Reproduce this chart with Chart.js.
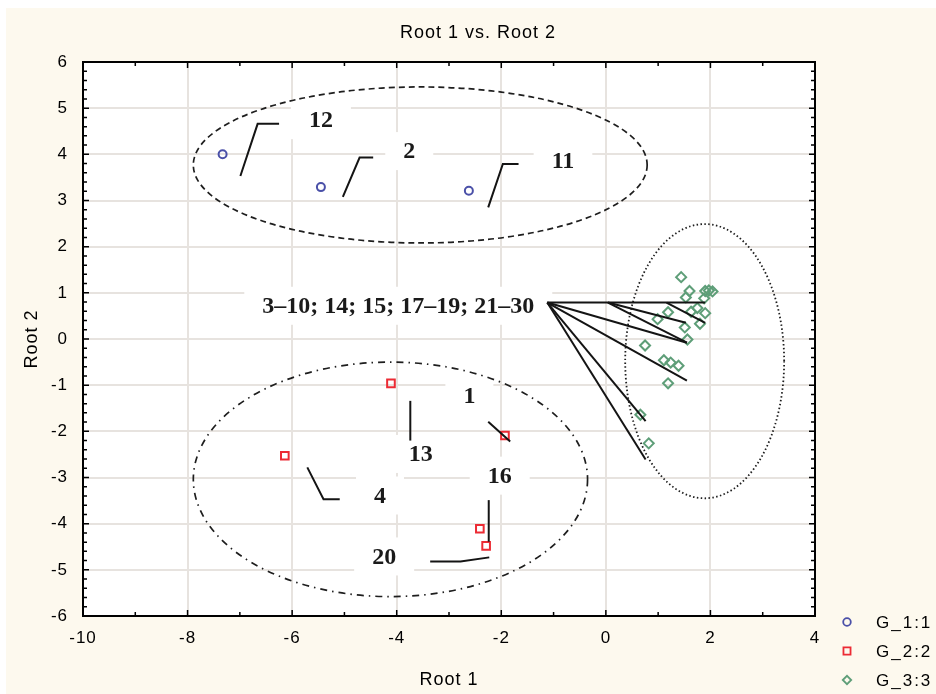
<!DOCTYPE html>
<html>
<head>
<meta charset="utf-8">
<script src="https://cdn.jsdelivr.net/npm/chart.js@4.4.0/dist/chart.umd.min.js"></script>
<style>
  html, body { margin: 0; padding: 0; background: #fff; }
  #wrap { width: 936px; height: 694px; }
</style>
</head>
<body>
<div id="wrap"><canvas id="rootChart" width="936" height="694"></canvas></div>
<script>
// discriminant scores
const g1X = [-7.33, -5.45, -2.62];
const g1Y = [4.00, 3.29, 3.21];
const g2X = [-4.11, -6.14, -1.93, -2.41, -2.29];
const g2Y = [-0.96, -2.53, -2.09, -4.11, -4.48];
const g3X = [1.44, 1.60, 1.53, 1.90, 2.04, 1.97, 1.88, 1.75, 1.63, 1.90, 1.19,
             0.99, 1.80, 1.51, 1.56, 0.75, 1.11, 1.24, 1.39, 1.19, 0.66, 0.82];
const g3Y = [1.34, 1.04, 0.90, 1.04, 1.03, 1.05, 0.88, 0.67, 0.59, 0.56, 0.58,
             0.43, 0.33, 0.25, -0.01, -0.14, -0.46, -0.51, -0.58, -0.96, -1.64, -2.26];
const groupNames = ['G_1:1', 'G_2:2', 'G_3:3'];

const xTicks = [-10, -8, -6, -4, -2, 0, 2, 4];
const yTicks = [-6, -5, -4, -3, -2, -1, 0, 1, 2, 3, 4, 5, 6];

// confidence ellipses (centre, half axes) in root units
const ellCX = [-3.55, -4.12, 1.89];
const ellCY = [3.77, -3.04, -0.48];
const ellRX = [4.34, 3.77, 1.52];
const ellRY = [1.69, 2.54, 2.97];

// case labels and their leader lines
const caseLabels = ['12', '2', '11', '3\u201310; 14; 15; 17\u201319; 21\u201330', '1', '13', '4', '16', '20'];
const caseLabelX = [-5.45, -3.76, -0.82, -3.97, -2.61, -3.54, -4.32, -2.03, -4.24];
const caseLabelY = [4.74, 4.07, 3.86, 0.72, -1.23, -2.49, -3.39, -2.96, -4.71];
const leaders = [
  [[-6.99, 3.53], [-6.66, 4.66], [-6.25, 4.66]],
  [[-5.03, 3.08], [-4.71, 3.93], [-4.45, 3.93]],
  [[-2.25, 2.85], [-1.97, 3.79], [-1.67, 3.79]],
  [[-1.12, 0.79], [1.90, 0.79]],
  [[0.04, 0.79], [1.53, 0.35]],
  [[0.04, 0.79], [1.55, -0.08]],
  [[1.16, 0.79], [1.90, 0.35]],
  [[-1.12, 0.79], [1.55, -0.08]],
  [[-1.12, 0.79], [1.55, -0.90]],
  [[-1.12, 0.79], [0.76, -1.78]],
  [[-1.12, 0.79], [0.76, -2.61]],
  [[-2.25, -1.79], [-1.83, -2.22]],
  [[-3.74, -1.34], [-3.74, -2.20]],
  [[-5.71, -2.78], [-5.40, -3.47], [-5.09, -3.47]],
  [[-2.24, -3.49], [-2.24, -4.39]],
  [[-3.36, -4.82], [-2.78, -4.82], [-2.23, -4.73]]
];

const pts = (xs, ys) => xs.map((x, i) => ({ x: x, y: ys[i] }));

const ellDash = [[6, 4], [7, 5, 1.5, 5], [1.5, 2.4]];
const labelFont = 'bold 24px "Liberation Serif", "Times New Roman", serif';

const decor = {
  id: 'decor',
  beforeDraw(chart) {
    const ctx = chart.ctx;
    const a = chart.chartArea;
    ctx.save();
    ctx.fillStyle = '#ffffff';
    ctx.fillRect(0, 0, chart.width, chart.height);
    ctx.fillStyle = '#fdf9ee';
    ctx.fillRect(6, 8, chart.width - 6, chart.height - 8);
    ctx.fillStyle = '#ffffff';
    ctx.fillRect(a.left, a.top, a.right - a.left, a.bottom - a.top);
    ctx.restore();
    ctx.letterSpacing = '1px';
  },
  beforeDatasetsDraw(chart) {
    const ctx = chart.ctx;
    const xs = chart.scales.x, ys = chart.scales.y;
    ctx.save();
    ctx.letterSpacing = '0px';
    ctx.font = labelFont;
    ctx.fillStyle = '#ffffff';
    caseLabels.forEach((t, i) => {
      const w = Math.max(ctx.measureText(t).width + 36, 46);
      const cx = xs.getPixelForValue(caseLabelX[i]);
      const cy = ys.getPixelForValue(caseLabelY[i]);
      ctx.fillRect(cx - w / 2, cy - 19, w, 38);
    });
    ctx.strokeStyle = '#1e1e1e';
    ctx.lineWidth = 1.7;
    ellCX.forEach((c, i) => {
      const cx = xs.getPixelForValue(c);
      const cy = ys.getPixelForValue(ellCY[i]);
      const rx = Math.abs(xs.getPixelForValue(c + ellRX[i]) - cx);
      const ry = Math.abs(ys.getPixelForValue(ellCY[i] + ellRY[i]) - cy);
      ctx.setLineDash(ellDash[i]);
      ctx.lineWidth = i === 2 ? 1.8 : 1.7;
      ctx.beginPath();
      ctx.ellipse(cx, cy, rx, ry, 0, 0, Math.PI * 2);
      ctx.stroke();
    });
    ctx.restore();
  },
  afterDatasetsDraw(chart) {
    const ctx = chart.ctx;
    const xs = chart.scales.x, ys = chart.scales.y;
    ctx.save();
    ctx.letterSpacing = '0px';
    ctx.strokeStyle = '#141414';
    ctx.lineWidth = 2;
    ctx.lineJoin = 'miter';
    leaders.forEach(line => {
      ctx.beginPath();
      line.forEach((p, j) => {
        const px = xs.getPixelForValue(p[0]), py = ys.getPixelForValue(p[1]);
        if (j === 0) ctx.moveTo(px, py); else ctx.lineTo(px, py);
      });
      ctx.stroke();
    });
    ctx.font = labelFont;
    ctx.fillStyle = '#1a1a1a';
    ctx.textAlign = 'center';
    ctx.textBaseline = 'middle';
    caseLabels.forEach((t, i) => {
      ctx.fillText(t, xs.getPixelForValue(caseLabelX[i]), ys.getPixelForValue(caseLabelY[i]) + 1);
    });
    ctx.restore();
  },
  afterDraw(chart) {
    const ctx = chart.ctx;
    const a = chart.chartArea;
    const xs = chart.scales.x, ys = chart.scales.y;
    ctx.save();
    // inward tick marks on all four sides
    ctx.strokeStyle = '#000';
    ctx.lineWidth = 1.5;
    ctx.beginPath();
    for (let v = xTicks[0]; v <= xTicks[xTicks.length - 1]; v += 1) {
      const px = xs.getPixelForValue(v);
      const len = (v % 2 === 0) ? 6 : 4;
      ctx.moveTo(px, a.bottom); ctx.lineTo(px, a.bottom - len);
      ctx.moveTo(px, a.top); ctx.lineTo(px, a.top + len);
    }
    for (let k = 0; k <= 60; k++) {
      const v = yTicks[0] + k * 0.2;
      const py = ys.getPixelForValue(v);
      const len = (k % 5 === 0) ? 6 : 4;
      ctx.moveTo(a.left, py); ctx.lineTo(a.left + len, py);
      ctx.moveTo(a.right, py); ctx.lineTo(a.right - len, py);
    }
    ctx.stroke();
    ctx.lineWidth = 2;
    ctx.strokeRect(a.left, a.top, a.right - a.left, a.bottom - a.top);

    // title
    ctx.letterSpacing = '1px';
    ctx.fillStyle = '#000';
    ctx.font = '18px "Liberation Sans", Arial, sans-serif';
    ctx.textAlign = 'center';
    ctx.textBaseline = 'middle';
    ctx.fillText('Root 1 vs. Root 2', 478, 33);

    // legend
    const styles = [
      { pointStyle: 'circle', radius: 3.8, color: '#4a50a8' },
      { pointStyle: 'rect', radius: 5, color: '#ec2b34' },
      { pointStyle: 'rectRot', radius: 4.2, color: '#5e9e78' }
    ];
    ctx.letterSpacing = '2px';
    ctx.font = '17px "Liberation Sans", Arial, sans-serif';
    ctx.textAlign = 'left';
    groupNames.forEach((name, i) => {
      const y = 622 + i * 29;
      ctx.strokeStyle = styles[i].color;
      ctx.fillStyle = 'rgba(0,0,0,0)';
      ctx.lineWidth = 1.8;
      Chart.helpers.drawPoint(ctx, { pointStyle: styles[i].pointStyle, radius: styles[i].radius, rotation: 0, borderWidth: 1.8 }, 847, y);
      ctx.fillStyle = '#000';
      ctx.fillText(name, 876, y + 1);
    });
    ctx.restore();
  }
};

const tickFont = { family: '"Liberation Sans", Arial, sans-serif', size: 17 };
const gridStyle = { color: '#e7e3df', lineWidth: 2, drawTicks: false };

new Chart(document.getElementById('rootChart'), {
  type: 'scatter',
  data: {
    datasets: [
      { label: groupNames[0], data: pts(g1X, g1Y), pointStyle: 'circle', pointRadius: 4, borderColor: '#4a50a8', backgroundColor: 'rgba(0,0,0,0)', borderWidth: 2 },
      { label: groupNames[1], data: pts(g2X, g2Y), pointStyle: 'rect', pointRadius: 5.4, borderColor: '#ec2b34', backgroundColor: 'rgba(0,0,0,0)', borderWidth: 2 },
      { label: groupNames[2], data: pts(g3X, g3Y), pointStyle: 'rectRot', pointRadius: 5, borderColor: '#5e9e78', backgroundColor: 'rgba(0,0,0,0)', borderWidth: 2 }
    ]
  },
  options: {
    responsive: false,
    animation: false,
    layout: { padding: { left: 0, top: 62, right: 121, bottom: 0 } },
    plugins: { legend: { display: false }, tooltip: { enabled: false }, title: { display: false } },
    scales: {
      x: {
        min: -10, max: 4,
        afterBuildTicks: s => { s.ticks = xTicks.map(v => ({ value: v })); },
        afterFit: s => { s.height = 78; },
        grid: gridStyle,
        border: { display: false },
        ticks: { color: '#000', font: tickFont, padding: 12 },
        title: { display: true, text: 'Root 1', color: '#000', font: { family: '"Liberation Sans", Arial, sans-serif', size: 18 }, padding: { top: 0, bottom: 3 } }
      },
      y: {
        min: -6, max: 6,
        afterBuildTicks: s => { s.ticks = yTicks.map(v => ({ value: v })); },
        afterFit: s => { s.width = 83; },
        grid: gridStyle,
        border: { display: false },
        ticks: { color: '#000', font: tickFont, padding: 15 },
        title: { display: true, text: 'Root 2', color: '#000', font: { family: '"Liberation Sans", Arial, sans-serif', size: 18 }, padding: { top: 21, bottom: 0 } }
      }
    }
  },
  plugins: [decor]
});
</script>
</body>
</html>
